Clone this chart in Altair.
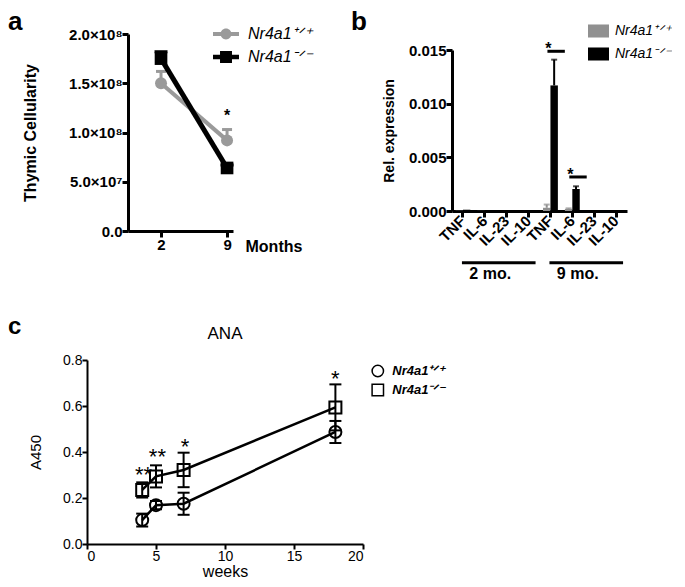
import altair as alt
import pandas as pd

FONT = "Liberation Sans"
WT = "Nr4a1⁺ᐟ⁺"
KO = "Nr4a1⁻ᐟ⁻"
GENOTYPES = [WT, KO]
panel_letters = ["a", "b", "c"]
GRAY_A = "#9a9a9a"
GRAY_B = "#909090"

# ---------------- panel a data ----------------
a_months = ["2", "9"]
a_wt_mean = [1.50e8, 0.92e8]
a_wt_err = [0.12e8, 0.11e8]
a_ko_mean = [1.75e8, 0.64e8]
a_ko_err = [0.07e8, 0.03e8]
a_star_pos = [1]
a_star_text = ["*"]
a_star_y = [1.165e8]
a_y_ticks = [0, 5e7, 1e8, 1.5e8, 2e8]

# ---------------- panel b data ----------------
b_periods = ["2 mo.", "9 mo."]
b_cytokines = ["TNF", "IL-6", "IL-23", "IL-10"]
b_wt_mean = [0.00002, 0.00001, 0.0, 0.0, 0.0003, 0.0002, 0.0, 0.0]
b_wt_err = [0.0, 0.0, 0.0, 0.0, 0.0003, 0.00005, 0.0, 0.0]
b_ko_mean = [0.00012, 0.00004, 0.0, 0.0, 0.0117, 0.00205, 0.0, 0.0]
b_ko_err = [0.0, 0.0, 0.0, 0.0, 0.0024, 0.00025, 0.0, 0.0]
b_sig_period = ["9 mo.", "9 mo."]
b_sig_cytokine = ["TNF", "IL-6"]
b_sig_line_y = [0.01488, 0.00317]
b_sig_star_y = [0.01507, 0.00333]
b_y_ticks = [0, 0.005, 0.010, 0.015]

# ---------------- panel c data ----------------
c_title = ["ANA"]
c_weeks = [4, 5, 7, 18]
c_wt_mean = [0.104, 0.169, 0.175, 0.487]
c_wt_err = [0.028, 0.018, 0.048, 0.048]
c_ko_mean = [0.235, 0.294, 0.322, 0.594]
c_ko_err = [0.033, 0.048, 0.075, 0.100]
c_star_x = [4.1, 5.1, 7.1, 18.0]
c_star_y = [0.300, 0.378, 0.422, 0.717]
c_star_text = ["**", "**", "*", "*"]
c_x_ticks = [0, 5, 10, 15, 20]
c_y_ticks = [0.0, 0.2, 0.4, 0.6, 0.8]

# legend symbol paths (unit box -1..1)
PATH_A_WT = "M-1,-0.15H1V0.15H-1Z M-0.42,0A0.42,0.42 0 1,1 0.42,0A0.42,0.42 0 1,1 -0.42,0Z"
PATH_A_KO = "M-1,-0.17H1V0.17H-1Z M-0.46,-0.46H0.46V0.46H-0.46Z"
PATH_RECT = "M-1,-0.62H1V0.62H-1Z"

# layout (pixels)
A_W, A_H, A_LEFT = 146, 197, 41      # panel a view starts 41px left of its y axis
B_W, B_H, B_TOP = 175, 177, 16       # panel b y axis starts 16px below the view top
C_W, C_H = 276, 184


def letter(ch, x, y, size):
    return alt.Chart(pd.DataFrame({"t": [ch]})).mark_text(
        align="left", baseline="alphabetic", font=FONT, fontSize=size, fontWeight="bold", color="black"
    ).encode(text="t:N", x=alt.value(x), y=alt.value(y))


AX_AB = dict(domainColor="black", tickColor="black", labelColor="black", titleColor="black",
             domainWidth=3, tickWidth=3, tickSize=6, labelFont=FONT, labelFontSize=15,
             labelFontWeight="bold", titleFont=FONT, titleFontSize=16, titleFontWeight="bold",
             grid=False, labelOverlap=False)

# ======================= PANEL A =======================
a_rows = []
for i, m in enumerate(a_months):
    for g, mean, err in [(WT, a_wt_mean[i], a_wt_err[i]), (KO, a_ko_mean[i], a_ko_err[i])]:
        a_rows.append({"pos": i, "genotype": g, "mean": mean, "upper": mean + err})
dfa = pd.DataFrame(a_rows)

xa_scale = alt.Scale(domain=[-0.5, 1.09], range=[A_LEFT, A_W], nice=False, zero=False)
ya_scale = alt.Scale(domain=[0, 2e8], nice=False)
xa_axis = alt.Axis(values=list(range(len(a_months))),
                   labelExpr="[" + ",".join(f"'{m}'" for m in a_months) + "][datum.value]",
                   title="Months", titleX=A_LEFT + 117, titleY=20, titleAlign="left",
                   titleBaseline="alphabetic", titleAngle=0, labelPadding=0, **AX_AB)
ya_axis = alt.Axis(values=a_y_ticks, offset=-A_LEFT,
                   labelExpr="datum.value == 0 ? '0.0' : (datum.value < 1e8 ? format(datum.value/1e7, '.1f') + '×10⁷' : format(datum.value/1e8, '.1f') + '×10⁸')",
                   title="Thymic Cellularity", titleX=-93, titleY=98.5, titleAngle=-90, titleAlign="center",
                   titleBaseline="alphabetic", labelPadding=0, **AX_AB)


def XA(f="pos"):
    return alt.X(f"{f}:Q", scale=xa_scale, axis=xa_axis)


def YA(f="mean"):
    return alt.Y(f"{f}:Q", scale=ya_scale, axis=ya_axis)


base_a = alt.Chart(dfa)
layers_a = []
for g, col, sw, shape, size, capw in [(WT, GRAY_A, 4, "circle", 144, 5), (KO, "black", 5, "square", 160, 6.5)]:
    sub = base_a.transform_filter(alt.datum.genotype == g)
    layers_a.append(sub.mark_rule(color=col, strokeWidth=3).encode(x=XA(), y=YA(), y2="upper:Q"))
    layers_a.append(sub.mark_rule(color=col, strokeWidth=3, xOffset=-capw, x2Offset=capw).encode(
        x=XA(), x2="pos:Q", y=YA("upper")))
    layers_a.append(sub.mark_line(color=col, strokeWidth=sw).encode(x=XA(), y=YA()))
    layers_a.append(sub.mark_point(filled=True, shape=shape, size=size, color=col, opacity=1).encode(x=XA(), y=YA()))

leg_a = alt.Legend(title=None, orient="none", legendX=A_LEFT + 85, legendY=-13, symbolSize=676, rowPadding=2,
                   labelOffset=9, labelFont=FONT, labelFontSize=16, labelFontStyle="italic",
                   labelFontWeight="normal", labelColor="black", symbolOpacity=1, symbolStrokeWidth=0,
                   padding=0)
legend_layer_a = base_a.mark_point(filled=True, opacity=0).encode(
    x=XA(), y=YA(),
    color=alt.Color("genotype:N", scale=alt.Scale(domain=GENOTYPES, range=[GRAY_A, "black"]), legend=leg_a),
    shape=alt.Shape("genotype:N", scale=alt.Scale(domain=GENOTYPES, range=[PATH_A_WT, PATH_A_KO]), legend=leg_a),
)
star_a = alt.Chart(pd.DataFrame({"pos": a_star_pos, "y": a_star_y, "t": a_star_text})).mark_text(
    font=FONT, fontSize=16, fontWeight="bold", baseline="middle", color="black"
).encode(x=XA(), y=YA("y"), text="t:N")

panel_a = alt.layer(*layers_a, legend_layer_a, star_a,
                    letter(panel_letters[0], A_LEFT - 120, -4.5, 26)).properties(width=A_W, height=A_H)

# ======================= PANEL B =======================
keys = [f"{p}|{c}" for p in b_periods for c in b_cytokines]
b_rows = []
for k_i, key in enumerate(keys):
    for g, mean_l, err_l in [(WT, b_wt_mean, b_wt_err), (KO, b_ko_mean, b_ko_err)]:
        b_rows.append({"key": key, "genotype": g, "mean": mean_l[k_i],
                       "upper": mean_l[k_i] + err_l[k_i], "err": err_l[k_i]})
dfb = pd.DataFrame(b_rows)

xb_scale = alt.Scale(domain=keys, paddingInner=0.32, paddingOuter=0.16)
xb_axis = alt.Axis(labelExpr="split(datum.value, '|')[1]", labelAngle=-45, labelAlign="right",
                   labelBaseline="middle", labelPadding=1, title=None, **AX_AB)
yb_scale = alt.Scale(domain=[0, 0.015], range=[B_H, B_TOP], nice=False)
yb_axis = alt.Axis(values=b_y_ticks, format=".3f", title="Rel. expression", titleX=-59, titleY=B_TOP + 80.5,
                   titleAngle=-90, titleAlign="center", titleBaseline="alphabetic", labelPadding=0,
                   **{**AX_AB, "titleFontSize": 14})
xoff_b = alt.XOffset("genotype:N", scale=alt.Scale(domain=GENOTYPES, paddingInner=0, paddingOuter=0))


def XB(f="key", **kw):
    return alt.X(f"{f}:N", scale=xb_scale, axis=xb_axis, **kw)


def YB(f="mean"):
    return alt.Y(f"{f}:Q", scale=yb_scale, axis=yb_axis)


base_b = alt.Chart(dfb)
layers_b = []
for g, col in [(WT, GRAY_B), (KO, "black")]:
    sub = base_b.transform_filter(alt.datum.genotype == g)
    layers_b.append(sub.mark_bar(color=col).encode(x=XB(), xOffset=xoff_b, y=YB()))
for g, col in [(WT, GRAY_B), (KO, "black")]:
    sub = base_b.transform_filter(alt.datum.genotype == g).transform_filter("datum.err > 0")
    layers_b.append(sub.mark_rule(color=col, strokeWidth=2).encode(x=XB(), xOffset=xoff_b, y=YB(), y2="upper:Q"))
    layers_b.append(sub.mark_tick(color=col, thickness=2, size=6).encode(x=XB(), xOffset=xoff_b, y=YB("upper")))

leg_b = alt.Legend(title=None, orient="none", legendX=136, legendY=-13.5, symbolSize=441, rowPadding=5,
                   labelOffset=6, labelFont=FONT, labelFontSize=14, labelFontStyle="italic",
                   labelFontWeight="normal", labelColor="black", symbolOpacity=1, symbolStrokeWidth=0,
                   padding=0)
legend_layer_b = base_b.mark_point(filled=True, opacity=0).encode(
    x=XB(), xOffset=xoff_b, y=YB(),
    color=alt.Color("genotype:N", scale=alt.Scale(domain=GENOTYPES, range=[GRAY_B, "black"]), legend=leg_b),
    shape=alt.Shape("genotype:N", scale=alt.Scale(domain=GENOTYPES, range=[PATH_RECT, PATH_RECT]), legend=leg_b),
)

dfsig = pd.DataFrame({"key": [f"{p}|{c}" for p, c in zip(b_sig_period, b_sig_cytokine)],
                      "ly": b_sig_line_y, "sy": b_sig_star_y, "t": ["*"] * len(b_sig_cytokine)})
sig_line_b = alt.Chart(dfsig).mark_rule(color="black", strokeWidth=3, xOffset=-3, x2Offset=14.4).encode(
    x=XB(), x2="key:N", y=YB("ly"))
sig_star_b = alt.Chart(dfsig).mark_text(font=FONT, fontSize=16, fontWeight="bold", baseline="middle",
                                        color="black", dx=-2).encode(x=XB(), y=YB("sy"), text="t:N")

dfgrp = pd.DataFrame({"period": b_periods,
                      "start": [f"{p}|{b_cytokines[0]}" for p in b_periods],
                      "end": [f"{p}|{b_cytokines[-1]}" for p in b_periods],
                      "mid": [f"{p}|{b_cytokines[1]}" for p in b_periods]})
grp_line_b = alt.Chart(dfgrp).mark_rule(color="black", strokeWidth=3, xOffset=-1, x2Offset=7).encode(
    x=XB("start"), x2="end:N", y=alt.value(228.7))
grp_text_b = alt.Chart(dfgrp).mark_text(font=FONT, fontSize=16, fontWeight="bold", baseline="middle",
                                        color="black", dx=-2).encode(
    x=XB("mid", bandPosition=1), y=alt.value(239.5), text="period:N")

panel_b = alt.layer(*layers_b, legend_layer_b, sig_line_b, sig_star_b, grp_line_b, grp_text_b,
                    letter(panel_letters[1], -101, -4.5, 26)).properties(width=B_W, height=B_H)

# ======================= PANEL C =======================
c_rows = []
for i, w in enumerate(c_weeks):
    for g, mean_l, err_l in [(WT, c_wt_mean, c_wt_err), (KO, c_ko_mean, c_ko_err)]:
        c_rows.append({"week": w, "genotype": g, "mean": mean_l[i],
                       "lo": mean_l[i] - err_l[i], "hi": mean_l[i] + err_l[i]})
dfc = pd.DataFrame(c_rows)

AX_C = dict(domainColor="black", tickColor="black", labelColor="black", titleColor="black",
            domainWidth=2, tickWidth=2, tickSize=5, labelFont=FONT, labelFontSize=14,
            labelFontWeight="normal", titleFont=FONT, titleFontWeight="normal",
            grid=False, labelOverlap=False, labelPadding=0)
xc_scale = alt.Scale(domain=[0, 20], nice=False)
yc_scale = alt.Scale(domain=[0, 0.8], nice=False)
xc_axis = alt.Axis(values=c_x_ticks, format="d", title="weeks", titleX=138, titleY=32, titleAlign="center",
                   titleBaseline="alphabetic", titleFontSize=16, **AX_C)
yc_axis = alt.Axis(values=c_y_ticks, format=".1f", title="A450", titleX=-47, titleY=92, titleAngle=-90,
                   titleAlign="center", titleBaseline="alphabetic", titleFontSize=15, **AX_C)


def XC(f="week"):
    return alt.X(f"{f}:Q", scale=xc_scale, axis=xc_axis)


def YC(f="mean"):
    return alt.Y(f"{f}:Q", scale=yc_scale, axis=yc_axis)


base_c = alt.Chart(dfc)
layers_c = [
    base_c.mark_line(color="black", strokeWidth=2.5).encode(x=XC(), y=YC(), detail="genotype:N"),
    base_c.mark_rule(color="black", strokeWidth=2).encode(x=XC(), y=YC("lo"), y2="hi:Q"),
    base_c.mark_rule(color="black", strokeWidth=2, xOffset=-6, x2Offset=6).encode(x=XC(), x2="week:Q", y=YC("lo")),
    base_c.mark_rule(color="black", strokeWidth=2, xOffset=-6, x2Offset=6).encode(x=XC(), x2="week:Q", y=YC("hi")),
]
for g, shape in [(WT, "circle"), (KO, "square")]:
    layers_c.append(base_c.transform_filter(alt.datum.genotype == g).mark_point(
        filled=False, shape=shape, color="black", strokeWidth=2, size=144, opacity=1).encode(x=XC(), y=YC()))

leg_c = alt.Legend(title=None, orient="none", legendX=284.3, legendY=4.5, symbolSize=130,
                   symbolStrokeWidth=1.5, rowPadding=0, labelOffset=8, symbolOpacity=1,
                   labelFont=FONT, labelFontSize=13, labelFontWeight="bold", labelFontStyle="italic",
                   labelColor="black", padding=0)
legend_layer_c = base_c.mark_point(filled=False, color="black", opacity=0).encode(
    x=XC(), y=YC(),
    shape=alt.Shape("genotype:N", scale=alt.Scale(domain=GENOTYPES, range=["circle", "square"]), legend=leg_c))
star_c = alt.Chart(pd.DataFrame({"x": c_star_x, "y": c_star_y, "t": c_star_text})).mark_text(
    font=FONT, fontSize=22, baseline="middle", color="black").encode(x=XC("x"), y=YC("y"), text="t:N")
title_c = alt.Chart(pd.DataFrame({"t": c_title})).mark_text(
    font=FONT, fontSize=17, baseline="alphabetic", align="center", color="black").encode(
    text="t:N", x=alt.value(138), y=alt.value(-21))

panel_c = alt.layer(*layers_c, legend_layer_c, star_c, title_c,
                    letter(panel_letters[2], -79, -26, 24)).properties(width=C_W, height=C_H)

top = alt.hconcat(panel_a, panel_b, spacing=39).resolve_scale(
    color="independent", shape="independent").resolve_legend(color="independent", shape="independent")
chart = alt.vconcat(top, panel_c, spacing=33).resolve_scale(
    color="independent", shape="independent").resolve_legend(
    color="independent", shape="independent").properties(padding=0).configure(
    font=FONT).configure_view(stroke=None)

chart.save("out.html", embed_options={"renderer": "svg", "actions": False})
